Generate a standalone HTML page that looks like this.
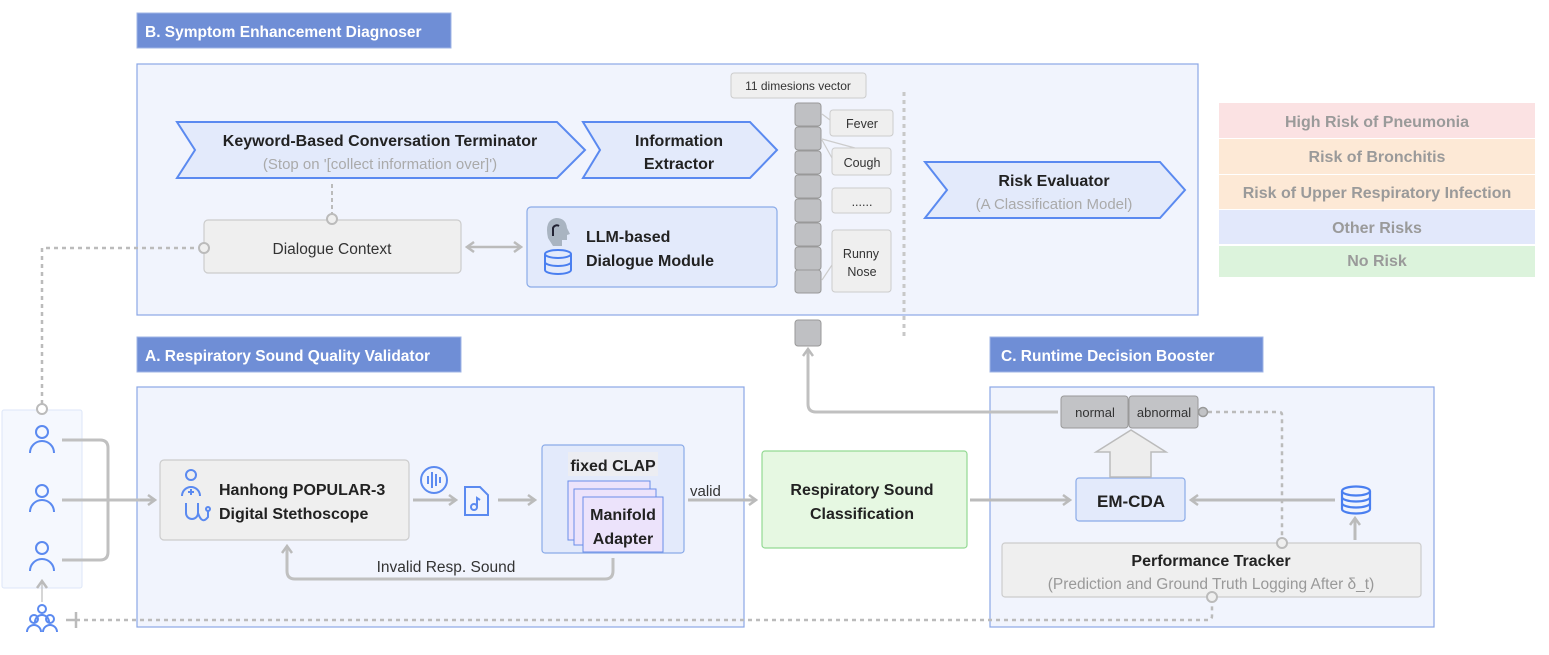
<!DOCTYPE html>
<html><head><meta charset="utf-8"><style>
html,body{margin:0;padding:0;background:#fff;}
svg{display:block;font-family:"Liberation Sans",sans-serif;}
</style></head><body>
<svg width="1549" height="655" viewBox="0 0 1549 655" xmlns="http://www.w3.org/2000/svg">
<defs>
<marker id="ah" markerWidth="10" markerHeight="12" refX="8" refY="6" orient="auto" markerUnits="userSpaceOnUse">
<path d="M1,1 L8,6 L1,11" fill="none" stroke="#bbb" stroke-width="2.5"/></marker>
<marker id="ahs" markerWidth="10" markerHeight="12" refX="8" refY="6" orient="auto-start-reverse" markerUnits="userSpaceOnUse">
<path d="M1,1 L8,6 L1,11" fill="none" stroke="#bbb" stroke-width="2.5"/></marker>
</defs>

<g font-weight="bold" font-size="16" fill="#9a9a9a" text-anchor="middle">
<rect x="1219" y="103" width="316" height="35" fill="#fbe2e3"/><text x="1377" y="127">High Risk of Pneumonia</text>
<rect x="1219" y="139" width="316" height="35" fill="#fde9d6"/><text x="1377" y="162">Risk of Bronchitis</text>
<rect x="1219" y="175" width="316" height="34" fill="#fde9d6"/><text x="1377" y="198">Risk of Upper Respiratory Infection</text>
<rect x="1219" y="210" width="316" height="34" fill="#e2e8fb"/><text x="1377" y="233">Other Risks</text>
<rect x="1219" y="246" width="316" height="31" fill="#dcf3dc"/><text x="1377" y="266">No Risk</text>
</g>

<rect x="137" y="64" width="1061" height="251" fill="#f1f4fd" stroke="#8ba7e6" stroke-width="1.2"/>
<rect x="137" y="387" width="607" height="240" fill="#f1f4fd" stroke="#8ba7e6" stroke-width="1.2"/>
<rect x="990" y="387" width="444" height="240" fill="#f1f4fd" stroke="#8ba7e6" stroke-width="1.2"/>
<rect x="2" y="410" width="80" height="178" fill="#f5f8fe" stroke="#dde6f8" rx="2"/>

<g font-weight="bold" font-size="15.5" fill="#fff">
<rect x="137" y="13" width="314" height="35" fill="#6f8ed6" stroke="#9fb4e6"/><text x="145" y="37">B. Symptom Enhancement Diagnoser</text>
<rect x="137" y="337" width="324" height="35" fill="#6f8ed6" stroke="#9fb4e6"/><text x="145" y="361">A. Respiratory Sound Quality Validator</text>
<rect x="990" y="337" width="273" height="35" fill="#6f8ed6" stroke="#9fb4e6"/><text x="1001" y="361">C. Runtime Decision Booster</text>
</g>

<polygon points="177,122 557,122 585,150 557,178 177,178 195,150" fill="#e3eafb" stroke="#5b8af0" stroke-width="2"/>
<text x="380" y="146" text-anchor="middle" font-weight="bold" font-size="16" fill="#222">Keyword-Based Conversation Terminator</text>
<text x="380" y="169" text-anchor="middle" font-size="15" fill="#aaa">(Stop on '[collect information over]')</text>
<polygon points="583,122 750,122 777,150 750,178 583,178 600,150" fill="#e3eafb" stroke="#5b8af0" stroke-width="2"/>
<text x="679" y="146" text-anchor="middle" font-weight="bold" font-size="16" fill="#222">Information</text>
<text x="679" y="169" text-anchor="middle" font-weight="bold" font-size="16" fill="#222">Extractor</text>
<polygon points="925,162 1160,162 1185,190 1160,218 925,218 947,190" fill="#e3eafb" stroke="#5b8af0" stroke-width="2"/>
<text x="1054" y="186" text-anchor="middle" font-weight="bold" font-size="16" fill="#222">Risk Evaluator</text>
<text x="1054" y="209" text-anchor="middle" font-size="15" fill="#aaa">(A Classification Model)</text>

<line x1="332" y1="184" x2="332" y2="214" stroke="#bbb" stroke-width="2" stroke-dasharray="4,3"/>
<rect x="204" y="220" width="257" height="53" rx="4" fill="#efefef" stroke="#ccc" stroke-width="1.2"/>
<circle cx="332" cy="219" r="5" fill="#efefef" stroke="#bbb" stroke-width="2"/>
<text x="332" y="254" text-anchor="middle" font-size="15.5" fill="#333">Dialogue Context</text>
<line x1="467" y1="247" x2="521" y2="247" stroke="#bbb" stroke-width="2.5" marker-start="url(#ahs)" marker-end="url(#ah)"/>
<rect x="527" y="207" width="250" height="80" rx="4" fill="#e3eafb" stroke="#8aaae8" stroke-width="1.2"/>
<text x="586" y="242" font-weight="bold" font-size="16" fill="#222">LLM-based</text>
<text x="586" y="266" font-weight="bold" font-size="16" fill="#222">Dialogue Module</text>
<path d="M548,238 q-4,-18 8,-20 q10,0 11,10 l3,6 -3,1 0,5 -5,0 0,6 -9,0 z" fill="#a9b4c1"/>
<path d="M553,236 v-8 a4,4 0 0 1 6,-2" stroke="#223" stroke-width="2" fill="none"/>
<g fill="none" stroke="#4a7ff0" stroke-width="2">
<ellipse cx="558" cy="254" rx="13" ry="4"/>
<path d="M545,254 v16 a13,4 0 0 0 26,0 v-16 M545,262 a13,4 0 0 0 26,0"/>
</g>

<path d="M42,404 V248 H198" fill="none" stroke="#bbb" stroke-width="2.5" stroke-dasharray="4,4"/>
<circle cx="204" cy="248" r="5" fill="#efefef" stroke="#bbb" stroke-width="2"/>
<circle cx="42" cy="409" r="5" fill="#fff" stroke="#bbb" stroke-width="2"/>

<rect x="731" y="73" width="135" height="25" rx="3" fill="#efefef" stroke="#ccc"/>
<text x="798" y="90" text-anchor="middle" font-size="12" fill="#333">11 dimesions vector</text>
<g fill="#bfc0c3" stroke="#999" stroke-width="1">
<rect x="795" y="103" width="26" height="23" rx="3"/><rect x="795" y="127" width="26" height="23" rx="3"/>
<rect x="795" y="151" width="26" height="23" rx="3"/><rect x="795" y="175" width="26" height="23" rx="3"/>
<rect x="795" y="199" width="26" height="23" rx="3"/><rect x="795" y="223" width="26" height="23" rx="3"/>
<rect x="795" y="247" width="26" height="23" rx="3"/><rect x="795" y="270" width="26" height="23" rx="3"/>
<rect x="795" y="320" width="26" height="26" rx="3"/>
</g>
<g stroke="#ccc" stroke-width="1.2">
<line x1="822" y1="114" x2="830" y2="120"/><line x1="822" y1="139" x2="855" y2="148"/><line x1="822" y1="140" x2="832" y2="158"/><line x1="822" y1="280" x2="832" y2="265"/>
</g>
<g fill="#efefef" stroke="#ccc">
<rect x="830" y="110" width="63" height="26" rx="3"/><rect x="832" y="148" width="59" height="27" rx="3"/>
<rect x="832" y="188" width="59" height="25" rx="3"/><rect x="832" y="230" width="59" height="62" rx="3"/>
</g>
<g font-size="12.5" fill="#333" text-anchor="middle">
<text x="862" y="128">Fever</text><text x="862" y="167">Cough</text><text x="862" y="206">......</text>
<text x="861" y="258">Runny</text><text x="862" y="276">Nose</text>
</g>
<line x1="904" y1="92" x2="904" y2="337" stroke="#c8c8c8" stroke-width="3" stroke-dasharray="4,4"/>

<g fill="none" stroke="#5b8af0" stroke-width="2">
<circle cx="42" cy="432" r="6"/><path d="M30,453 a12,12 0 0 1 24,0"/>
<circle cx="42" cy="491" r="6"/><path d="M30,512 a12,12 0 0 1 24,0"/>
<circle cx="42" cy="548" r="6"/><path d="M30,571 a12,12 0 0 1 24,0"/>
<circle cx="42" cy="609" r="4"/><path d="M35,622 a7,7 0 0 1 14,0"/>
<circle cx="34" cy="619" r="4"/><path d="M27,632 a7,7 0 0 1 14,0"/>
<circle cx="50" cy="619" r="4"/><path d="M43,632 a7,7 0 0 1 14,0"/>
</g>
<line x1="42" y1="602" x2="42" y2="581" stroke="#bbb" stroke-width="1.2" marker-end="url(#ah)"/>
<g fill="none" stroke="#c0c0c0" stroke-width="3">
<path d="M62,440 H100 q8,0 8,8 V552 q0,8 -8,8 H62"/>
<path d="M62,500 H154"/>
</g>
<line x1="140" y1="500" x2="155" y2="500" stroke="#bbb" stroke-width="3" marker-end="url(#ah)"/>
<path d="M76,620 H1208 q4,0 4,-4 V603" fill="none" stroke="#bbb" stroke-width="2.5" stroke-dasharray="4,4"/>
<line x1="66" y1="620" x2="76" y2="620" stroke="#bbb" stroke-width="2.5"/>
<line x1="76" y1="612" x2="76" y2="628" stroke="#bbb" stroke-width="2.5"/>

<rect x="160" y="460" width="249" height="80" rx="4" fill="#efefef" stroke="#ccc" stroke-width="1.2"/>
<text x="219" y="495" font-weight="bold" font-size="16" fill="#222">Hanhong POPULAR-3</text>
<text x="219" y="519" font-weight="bold" font-size="16" fill="#222">Digital Stethoscope</text>
<g fill="none" stroke="#5b8af0" stroke-width="2">
<circle cx="191" cy="475" r="5"/><path d="M182,496 a9,9 0 0 1 18,0"/><path d="M188,492 h6 M191,489 v6"/>
<path d="M186,503 v10 a6,6 0 0 0 12,0 v-10 M198,513 q4,12 10,4 v-6"/><circle cx="208" cy="509" r="2"/>
<circle cx="434" cy="480" r="13"/><path d="M428,476 v8 M432,472 v16 M436,474 v12 M440,477 v6"/>
<path d="M465,487 h15 l8,8 v20 h-23 z"/><circle cx="474" cy="507" r="3"/><path d="M477,507 v-9 l3,2"/>
</g>
<line x1="413" y1="500" x2="456" y2="500" stroke="#bbb" stroke-width="3" marker-end="url(#ah)"/>
<line x1="498" y1="500" x2="535" y2="500" stroke="#bbb" stroke-width="3" marker-end="url(#ah)"/>
<rect x="542" y="445" width="142" height="108" rx="3" fill="#e3eafb" stroke="#8aaae8" stroke-width="1.2"/>
<rect x="568" y="452" width="90" height="24" fill="#ecedf2"/>
<text x="613" y="471" text-anchor="middle" font-weight="bold" font-size="16" fill="#222">fixed CLAP</text>
<rect x="568" y="481" width="82" height="59" fill="#ece3fb" stroke="#6a8de8"/>
<rect x="574" y="489" width="82" height="56" fill="#ece3fb" stroke="#6a8de8"/>
<rect x="583" y="497" width="80" height="55" fill="#ece3fb" stroke="#6a8de8"/>
<text x="623" y="520" text-anchor="middle" font-weight="bold" font-size="16" fill="#222">Manifold</text>
<text x="623" y="544" text-anchor="middle" font-weight="bold" font-size="16" fill="#222">Adapter</text>
<path d="M613,558 V571 q0,8 -8,8 H295 q-8,0 -8,-8 V546" fill="none" stroke="#c0c0c0" stroke-width="3" marker-end="url(#ah)"/>
<text x="446" y="572" text-anchor="middle" font-size="15.5" fill="#333">Invalid Resp. Sound</text>
<line x1="688" y1="500" x2="756" y2="500" stroke="#bbb" stroke-width="3" marker-end="url(#ah)"/>
<text x="690" y="496" font-size="15" fill="#333">valid</text>

<rect x="762" y="451" width="205" height="97" rx="3" fill="#e6f8e2" stroke="#93d993" stroke-width="1.2"/>
<text x="862" y="495" text-anchor="middle" font-weight="bold" font-size="16" fill="#222">Respiratory Sound</text>
<text x="862" y="519" text-anchor="middle" font-weight="bold" font-size="16" fill="#222">Classification</text>

<line x1="970" y1="500" x2="1070" y2="500" stroke="#bbb" stroke-width="3" marker-end="url(#ah)"/>
<rect x="1076" y="478" width="109" height="43" rx="3" fill="#e3eafb" stroke="#8aaae8" stroke-width="1.2"/>
<text x="1131" y="507" text-anchor="middle" font-weight="bold" font-size="17" fill="#222">EM-CDA</text>
<line x1="1335" y1="500" x2="1191" y2="500" stroke="#bbb" stroke-width="3" marker-end="url(#ah)"/>
<g fill="none" stroke="#4a7ff0" stroke-width="2.2">
<ellipse cx="1356" cy="491" rx="14" ry="4.5"/>
<path d="M1342,491 v18 a14,4.5 0 0 0 28,0 v-18 M1342,497 a14,4.5 0 0 0 28,0 M1342,503 a14,4.5 0 0 0 28,0"/>
</g>
<line x1="1355" y1="540" x2="1355" y2="518" stroke="#bbb" stroke-width="3" marker-end="url(#ah)"/>
<polygon points="1110,477 1110,452 1096,452 1131,430 1166,452 1151,452 1151,477" fill="#ededed" stroke="#bbb" stroke-width="1.5"/>
<rect x="1061" y="396" width="67" height="32" rx="3" fill="#c2c3c6" stroke="#999"/>
<rect x="1129" y="396" width="69" height="32" rx="3" fill="#c2c3c6" stroke="#999"/>
<text x="1095" y="417" text-anchor="middle" font-size="13" fill="#333">normal</text>
<text x="1164" y="417" text-anchor="middle" font-size="13" fill="#333">abnormal</text>
<path d="M1058,412 H816 q-8,0 -8,-8 V349" fill="none" stroke="#c0c0c0" stroke-width="3" marker-end="url(#ah)"/>
<path d="M1208,412 H1279 q3,0 3,3 V537" fill="none" stroke="#bbb" stroke-width="2.5" stroke-dasharray="4,4"/>
<circle cx="1203" cy="412" r="4.5" fill="#c2c3c6" stroke="#999" stroke-width="1.5"/>
<rect x="1002" y="543" width="419" height="54" rx="3" fill="#efefef" stroke="#ccc" stroke-width="1.2"/>
<circle cx="1282" cy="543" r="5" fill="#efefef" stroke="#bbb" stroke-width="2"/>
<circle cx="1212" cy="597" r="5" fill="#efefef" stroke="#bbb" stroke-width="2"/>
<text x="1211" y="566" text-anchor="middle" font-weight="bold" font-size="16" fill="#222">Performance Tracker</text>
<text x="1211" y="589" text-anchor="middle" font-size="15.5" fill="#999">(Prediction and Ground Truth Logging After δ_t)</text>
</svg>
</body></html>
